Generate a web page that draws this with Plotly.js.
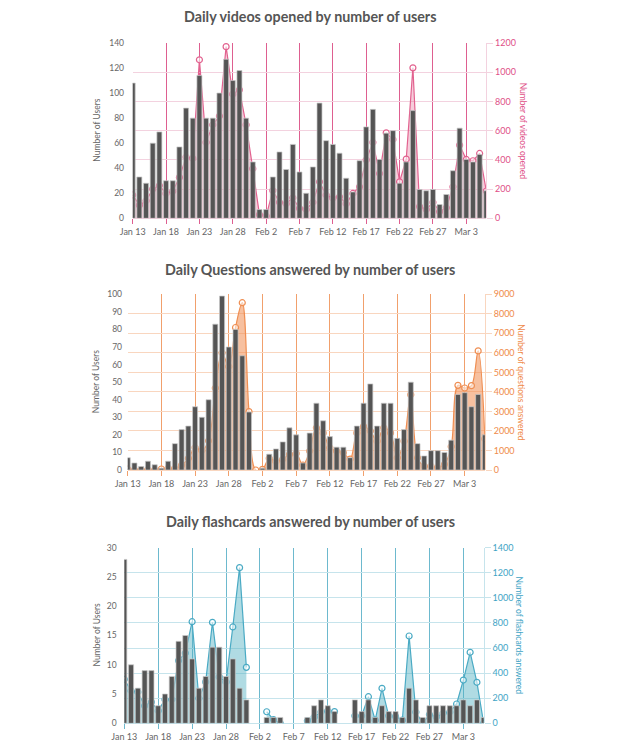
<!DOCTYPE html>
<html><head><meta charset="utf-8">
<script src="https://cdn.plot.ly/plotly-3.0.1.min.js"></script>
<style>html,body{margin:0;padding:0;background:#fff}#chart{width:622px;height:747px}</style>
</head><body><div id="chart"></div>
<script>
// ---------- DATA ----------
const dates = ["2020-01-13","2020-01-14","2020-01-15","2020-01-16","2020-01-17","2020-01-18","2020-01-19","2020-01-20","2020-01-21","2020-01-22","2020-01-23","2020-01-24","2020-01-25","2020-01-26","2020-01-27","2020-01-28","2020-01-29","2020-01-30","2020-01-31","2020-02-01","2020-02-02","2020-02-03","2020-02-04","2020-02-05","2020-02-06","2020-02-07","2020-02-08","2020-02-09","2020-02-10","2020-02-11","2020-02-12","2020-02-13","2020-02-14","2020-02-15","2020-02-16","2020-02-17","2020-02-18","2020-02-19","2020-02-20","2020-02-21","2020-02-22","2020-02-23","2020-02-24","2020-02-25","2020-02-26","2020-02-27","2020-02-28","2020-02-29","2020-03-01","2020-03-02","2020-03-03","2020-03-04","2020-03-05","2020-03-06"];

const usersVideos = [108,33,28,60,69,30,30,57,88,80,114,80,80,100,127,110,118,80,45,7,7,33,53,39,59,37,20,41,92,62,59,52,32,21,46,73,87,47,68,70,28,45,86,23,22,23,11,19,38,72,47,45,51,22];
const videosOpened = [160,90,120,200,225,170,185,280,420,410,1085,520,640,700,1175,850,880,640,340,25,15,190,110,100,140,68,60,110,250,160,137,148,100,170,216,400,520,307,585,540,250,405,1030,80,60,110,46,72,216,501,403,394,444,187];

const usersQuestions = [7,4,2,5,3,1,5,15,23,25,36,30,40,83,99,70,80,65,33,null,1,9,12,16,24,20,4,21,38,28,19,13,13,7,25,38,49,25,38,38,18,23,50,15,8,11,11,10,17,43,44,36,43,20];
const questionsAnswered = [50,0,0,20,0,50,100,80,250,600,1150,1000,1500,4200,6000,5300,7300,8570,2990,0,30,600,430,550,800,850,250,970,2160,1900,1140,970,880,560,1900,2240,2000,1480,2160,1900,630,1480,3860,630,200,200,120,290,1200,4335,4200,4320,6100,1600];

const usersFlashcards = [28,10,6,9,9,3,5,8,14,15,11,6,8,13,13,8,11,6,4,null,null,1,1,1,null,null,null,1,3,4,3,2,null,null,4,2,4,1,3,2,2,1,6,4,1,3,3,3,3,3,4,3,4,1];
const flashcardsAnswered = [351,260,250,140,170,100,190,190,500,560,810,200,330,805,370,330,768,1241,446,null,null,92,30,0,null,null,null,20,50,90,100,93,null,null,60,60,212,25,279,60,55,25,696,90,0,70,50,80,90,154,345,566,327,0];

const titles = ["Daily videos opened by number of users","Daily Questions answered by number of users","Daily flashcards answered by number of users"];
const rightTitles = ["Number of videos opened","Number of questions answered","Number of flashcards answered"];
const leftTitle = "Number of Users";

// ---------- STYLE ----------
const W = 622, H = 747;
const FONT = "Lato, 'Open Sans', sans-serif";
const charts = [
  {users: usersVideos, counts: videosOpened, xr:[132.7,486.3], yr:[43,218.3], left:[0,140], ldt:20, right:[0,1200], rdt:200,
   strong:'#de5f90', light:'#f3d2df', line:'#e2628f', fill:'rgba(226,98,143,0.32)', lab:'#e04f87', shape:'linear', lstand:6, ltx:97, rtx:523},
  {users: usersQuestions, counts: questionsAnswered, xr:[127.7,484.9], yr:[294.3,470], left:[0,100], ldt:10, right:[0,9000], rdt:1000,
   strong:'#f1a06c', light:'#f9d6bf', line:'#ef8e52', fill:'rgba(240,140,80,0.55)', lab:'#ef8a4a', shape:'spline', lstand:3, ltx:96, rtx:521},
  {users: usersFlashcards, counts: flashcardsAnswered, xr:[124.3,483.7], yr:[547.7,723.3], left:[0,30], ldt:5, right:[0,1400], rdt:200,
   strong:'#6db9ce', light:'#c6e4ec', line:'#4aaac4', fill:'rgba(80,176,192,0.45)', lab:'#3ea4c5', shape:'linear', lstand:5, ltx:96, rtx:519}
];

// split a series into contiguous runs of non-null values
function runs(arr){
  const out = []; let s = -1;
  arr.forEach((v,k)=>{
    if (v !== null && s < 0) s = k;
    if ((v === null || k === arr.length-1) && s >= 0){ out.push([s, v === null ? k : k+1]); s = -1; }
  });
  return out;
}

const data = [];
const layout = {
  width: W, height: H, margin:{l:0,r:0,t:0,b:0}, paper_bgcolor:'#fff', plot_bgcolor:'rgba(0,0,0,0)',
  showlegend:false, bargap:0.25, font:{family:FONT, color:'#666'}, annotations:[]
};

charts.forEach((c,i)=>{
  const xn = i===0 ? 'x' : 'x'+(i+1);
  const yb = i===0 ? 'y' : 'y'+(2*i+1);
  const yo = 'y'+(2*i+2);
  const xk = i===0 ? 'xaxis' : 'xaxis'+(i+1);
  const ybk = i===0 ? 'yaxis' : 'yaxis'+(2*i+1);
  const yok = 'yaxis'+(2*i+2);
  const dom = [1 - c.yr[1]/H, 1 - c.yr[0]/H];

  runs(c.counts).forEach(([a,b])=>{
    data.push({type:'scatter', mode:'lines+markers', x:dates.slice(a,b), y:c.counts.slice(a,b), xaxis:xn, yaxis:yb,
      fill:'tozeroy', fillcolor:c.fill, cliponaxis:true,
      line:{color:c.line, width:1.2, shape:c.shape, smoothing:1},
      marker:{symbol:'circle', size:6, color:'rgba(255,255,255,0.55)', line:{color:c.line, width:1.2}},
      hoverinfo:'skip'});
  });
  data.push({type:'bar', x:dates, y:c.users, xaxis:xn, yaxis:yo,
    marker:{color:'#555555', line:{color:'rgba(200,200,200,0.9)', width:0.8}}, hoverinfo:'skip'});

  layout[xk] = {domain:[c.xr[0]/W, c.xr[1]/W], anchor:yb, type:'date',
    range:['2020-01-13','2020-03-06'], tickmode:'linear', tick0:'2020-01-13', dtick:5*86400000,
    tickformat:'%b %-d', showgrid:true, gridcolor:c.strong, gridwidth:1, ticks:'outside', ticklen:5,
    tickcolor:c.strong, tickfont:{size:9, color:'#666', family:FONT}, showline:false, zeroline:false, fixedrange:true};
  layout[ybk] = {domain:dom, anchor:xn, side:'right', range:c.right, dtick:c.rdt, tick0:0,
    showgrid:true, gridcolor:c.light, gridwidth:1, zeroline:true, zerolinecolor:c.light, zerolinewidth:1,
    showline:true, linecolor:c.light, linewidth:1, ticks:'outside', ticklen:6, tickcolor:c.light,
    tickfont:{size:9, color:c.lab, family:FONT}, fixedrange:true};
  layout[yok] = {overlaying:yb, anchor:xn, side:'left', range:c.left, dtick:c.ldt, tick0:0,
    showgrid:false, zeroline:false, showline:false, ticks:'outside', ticklen:c.lstand, tickcolor:'rgba(0,0,0,0)',
    tickfont:{size:8.5, color:'#666', family:FONT}, fixedrange:true};

  const midY = 1 - ((c.yr[0]+c.yr[1])/2)/H;
  layout.annotations.push({text:'<b>'+titles[i]+'</b>', xref:'paper', yref:'paper', x:310/W, y:1-(17+252*i)/H,
    xanchor:'center', yanchor:'middle', showarrow:false, font:{size:14.3, color:'#555', family:FONT}});
  layout.annotations.push({text:leftTitle, xref:'paper', yref:'paper', x:c.ltx/W, y:midY, textangle:-90,
    xanchor:'center', yanchor:'middle', showarrow:false, font:{size:8.5, color:'#666', family:FONT}});
  layout.annotations.push({text:rightTitles[i], xref:'paper', yref:'paper', x:c.rtx/W, y:midY, textangle:90,
    xanchor:'center', yanchor:'middle', showarrow:false, font:{size:8.5, color:c.lab, family:FONT}});
});

Plotly.newPlot('chart', data, layout, {staticPlot:true, displayModeBar:false});
</script>
</body></html>
